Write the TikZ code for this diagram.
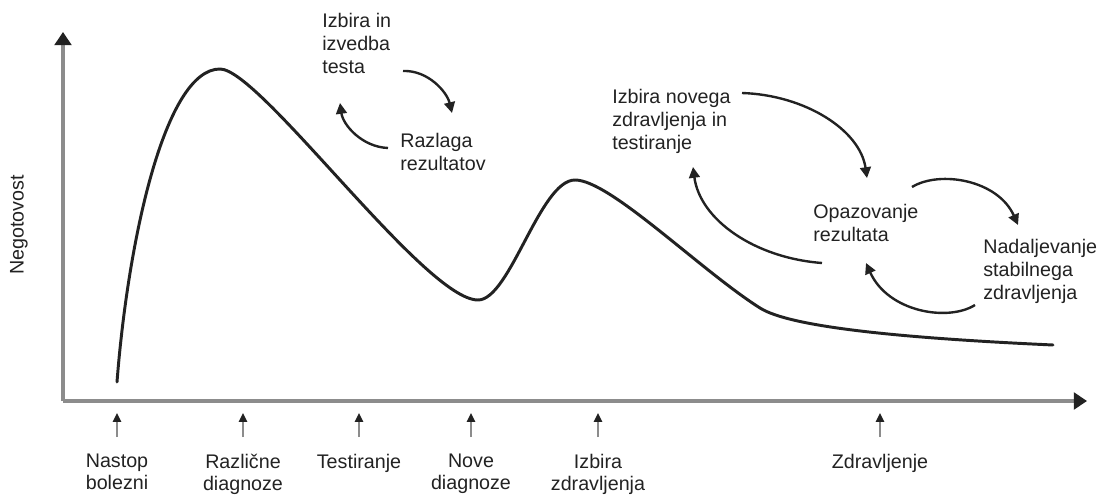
\documentclass[tikz,border=0pt]{standalone}
\usepackage{fontspec}
\setmainfont{Liberation Sans}
\usetikzlibrary{arrows.meta}
\definecolor{ink}{HTML}{222222}
\definecolor{axisgray}{HTML}{8C8C8C}
\tikzset{
	lbl/.style={font=\fontsize{14}{16.3}\selectfont, text=ink, inner sep=0pt, align=left, anchor=north west},
	ticklbl/.style={font=\fontsize{14}{15.6}\selectfont, text=ink, inner sep=0pt, align=center, anchor=north},
	axisline/.style={axisgray, line width=2.2pt, -{Triangle[width=0.42cm, length=0.33cm, color=ink]}},
	tickarrow/.style={axisgray, line width=1.4pt, -{Triangle[width=0.2cm, length=0.22cm, color=ink]}},
	cycarrow/.style={ink, line width=1.7pt, -{Triangle[width=0.27cm, length=0.27cm]}},
}
\begin{document}
\begin{tikzpicture}[x=0.025cm, y=-0.025cm]
	\useasboundingbox (0,0) rectangle (1102,497);
	% curve
	\draw[ink, line width=2.1pt, line cap=round] (117,382)
		.. controls (128,240) and (165,69) .. (220,69)
		.. controls (260,69) and (425,300) .. (478,300)
		.. controls (510,300) and (540,180) .. (575,180)
		.. controls (610,180) and (700,270) .. (760,308)
		.. controls (790,327) and (900,338) .. (1053,345);
	% axes
	\coordinate (O) at (63,401);
	\coordinate (ytop) at (63,32);
	\coordinate (xend) at (1087,401);
	\draw[axisline] (O) -- (ytop);
	\draw[axisline] (O) -- (xend);
	\node[font=\fontsize{14}{16}\selectfont, text=ink, inner sep=0pt, rotate=90] (ylbl) at (19,225) {Negotovost};
	% time points
	\foreach \xx/\name/\txt in {117/t1/Nastop\\bolezni, 243/t2/Različne\\diagnoze, 359/t3/Testiranje,
		471/t4/Nove\\diagnoze, 598/t5/Izbira\\zdravljenja, 880/t6/Zdravljenje}{
		\coordinate (\name a) at (\xx,437);
		\coordinate (\name b) at (\xx,413);
		\draw[tickarrow] (\name a) -- (\name b);
		\node[ticklbl] (\name) at (\xx,454) {\txt};
	}
	% labels
	\node[lbl] (izbira) at (322,13) {Izbira in\\izvedba\\testa};
	\node[lbl] (razlaga) at (400,133) {Razlaga\\rezultatov};
	\node[lbl] (novo) at (612,89) {Izbira novega\\zdravljenja in\\testiranje};
	\node[lbl] (opaz) at (813,204) {Opazovanje\\rezultata};
	\node[lbl] (nadalj) at (983,239) {Nadaljevanje\\stabilnega\\zdravljenja};
	% cycle arrows
	\coordinate (a1s) at (403,71);  \coordinate (a1e) at (452,113);
	\coordinate (a2s) at (388,148); \coordinate (a2e) at (340,103);
	\coordinate (a3s) at (742,93);  \coordinate (a3e) at (867,178);
	\coordinate (a4s) at (822,263); \coordinate (a4e) at (693,167);
	\coordinate (a5s) at (912,187); \coordinate (a5e) at (1018,225);
	\coordinate (a6s) at (975,305); \coordinate (a6e) at (866,263);
	\draw[cycarrow] (a1s) .. controls (428,70) and (447,92) .. (a1e);
	\draw[cycarrow] (a2s) .. controls (362,147) and (343,125) .. (a2e);
	\draw[cycarrow] (a3s) .. controls (805,95) and (860,130) .. (a3e);
	\draw[cycarrow] (a4s) .. controls (755,258) and (700,220) .. (a4e);
	\draw[cycarrow] (a5s) .. controls (940,170) and (998,180) .. (a5e);
	\draw[cycarrow] (a6s) .. controls (948,322) and (888,312) .. (a6e);
\end{tikzpicture}
\end{document}
